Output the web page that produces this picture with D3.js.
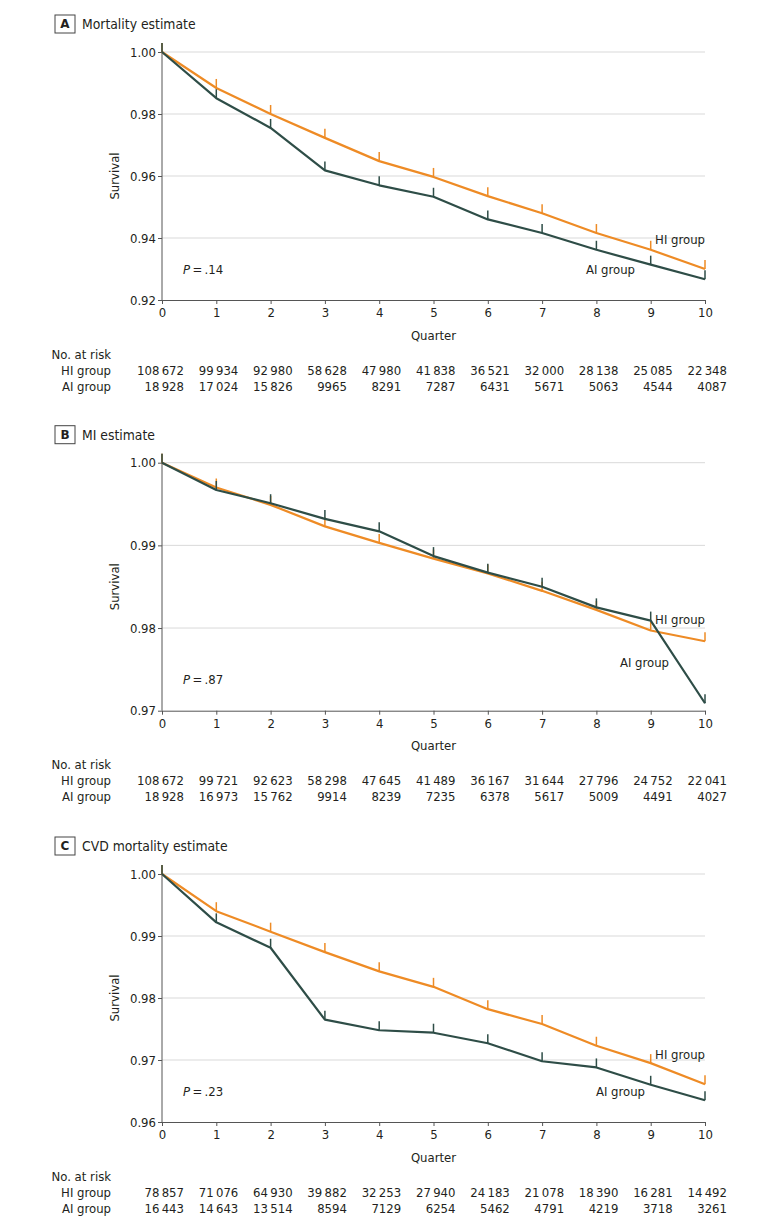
<!DOCTYPE html>
<html>
<head>
    <meta charset="utf-8" />
    <title>Survival by quarter</title>
    <style>
    body { margin: 0; background: #fff; }
    svg text {
        font-family: "DejaVu Sans Condensed", "DejaVu Sans", sans-serif;
        font-stretch: condensed;
        fill: #231f20;
    }
    .grid line { stroke: #d9d9d9; stroke-width: 1px; }
    .axis path, .axis line { stroke: #555; }
    </style>
</head>
<body>
    <svg id="chart" width="780" height="1227"></svg>

    <script src="https://d3js.org/d3.v7.min.js"></script>
    <script>
        // quarters on the x axis
        var quarters = [0, 1, 2, 3, 4, 5, 6, 7, 8, 9, 10];

        // survival estimates
        var mortalityHI = [1.000, 0.9884, 0.9800, 0.9723, 0.9648, 0.9597, 0.9535, 0.9480, 0.9416, 0.9362, 0.9300];
        var mortalityAI = [1.000, 0.9851, 0.9755, 0.9618, 0.9570, 0.9533, 0.9460, 0.9416, 0.9362, 0.9314, 0.9267];
        var miHI = [1.000, 0.9970, 0.9949, 0.9923, 0.9903, 0.9884, 0.9866, 0.9845, 0.9822, 0.9797, 0.9784];
        var miAI = [1.000, 0.9967, 0.9951, 0.9932, 0.9917, 0.9887, 0.9867, 0.9850, 0.9825, 0.9809, 0.9709];
        var cvdHI = [1.000, 0.9940, 0.9907, 0.9874, 0.9843, 0.9818, 0.9782, 0.9758, 0.9723, 0.9695, 0.9661];
        var cvdAI = [1.000, 0.9922, 0.9881, 0.9765, 0.9748, 0.9744, 0.9727, 0.9698, 0.9688, 0.9660, 0.9635];

        // y tick labels
        var mortalityTicks = [0.92, 0.94, 0.96, 0.98, 1.00];
        var miTicks = [0.97, 0.98, 0.99, 1.00];
        var cvdTicks = [0.96, 0.97, 0.98, 0.99, 1.00];

        // numbers at risk
        var mortalityRiskHI = [108672, 99934, 92980, 58628, 47980, 41838, 36521, 32000, 28138, 25085, 22348];
        var mortalityRiskAI = [18928, 17024, 15826, 9965, 8291, 7287, 6431, 5671, 5063, 4544, 4087];
        var miRiskHI = [108672, 99721, 92623, 58298, 47645, 41489, 36167, 31644, 27796, 24752, 22041];
        var miRiskAI = [18928, 16973, 15762, 9914, 8239, 7235, 6378, 5617, 5009, 4491, 4027];
        var cvdRiskHI = [78857, 71076, 64930, 39882, 32253, 27940, 24183, 21078, 18390, 16281, 14492];
        var cvdRiskAI = [16443, 14643, 13514, 8594, 7129, 6254, 5462, 4791, 4219, 3718, 3261];

        var panelLetters = ["A", "B", "C"];
        var panelTitles = ["Mortality estimate", "MI estimate", "CVD mortality estimate"];
        var pValues = [".14", ".87", ".23"];

        var colorHI = "#ee8b25",
            colorAI = "#2e4d47";

        // layout of each panel (pixel offsets from plot top)
        var panels = [
            { top: 52,    hi: mortalityHI, ai: mortalityAI, ticks: mortalityTicks, riskHI: mortalityRiskHI, riskAI: mortalityRiskAI,
              hiLabelY: 187, aiLabelY: 217, aiLabelX: 635, pY: 217 },
            { top: 462.7, hi: miHI, ai: miAI, ticks: miTicks, riskHI: miRiskHI, riskAI: miRiskAI,
              hiLabelY: 157, aiLabelY: 200, aiLabelX: 669, pY: 217 },
            { top: 874,   hi: cvdHI, ai: cvdAI, ticks: cvdTicks, riskHI: cvdRiskHI, riskAI: cvdRiskAI,
              hiLabelY: 180, aiLabelY: 217, aiLabelX: 645, pY: 217 }
        ];

        var plotH = 248,
            left = 162,
            right = 705;

        var svg = d3.select("#chart");

        var x = d3.scaleLinear().domain([0, 10]).range([left, right]);

        // thin space between thousands
        function fmtRisk(n) {
            var s = String(n);
            if (s.length <= 4) return s;
            return s.slice(0, s.length - 3) + "\u2009" + s.slice(s.length - 3);
        }

        panels.forEach(function(p, i) {
            var g = svg.append("g").attr("transform", "translate(0," + p.top + ")");
            var y = d3.scaleLinear()
                .domain([d3.min(p.ticks), d3.max(p.ticks)])
                .range([plotH, 0]);

            // title with boxed letter
            var title = g.append("g").attr("transform", "translate(0,-28)");
            title.append("rect")
                .attr("x", 55).attr("y", -9).attr("width", 20).attr("height", 18)
                .attr("fill", "none").attr("stroke", "#444").attr("stroke-width", 1);
            title.append("text")
                .attr("x", 65).attr("dy", "0.36em")
                .attr("text-anchor", "middle")
                .style("font-family", "'DejaVu Sans', sans-serif")
                .style("font-stretch", "normal")
                .style("font-weight", "bold").style("font-size", "12px")
                .text(panelLetters[i]);
            title.append("text")
                .attr("x", 82).attr("dy", "0.36em")
                .style("font-size", "13.8px")
                .text(panelTitles[i]);

            // gridlines
            g.append("g").attr("class", "grid")
                .selectAll("line")
                .data(p.ticks.slice(1))
                .enter().append("line")
                .attr("x1", left).attr("x2", right)
                .attr("y1", function(d) { return y(d); })
                .attr("y2", function(d) { return y(d); });

            // y axis
            var yAxis = g.append("g").attr("class", "axis")
                .attr("transform", "translate(" + left + ",0)")
                .call(d3.axisLeft(y).tickValues(p.ticks).tickFormat(d3.format(".2f")).tickSize(4).tickSizeOuter(0));
            yAxis.selectAll("text").style("font-size", "13px").attr("x", -6);
            yAxis.select(".domain").attr("d", "M0," + (plotH) + "V-9");

            // x axis
            var xAxis = g.append("g").attr("class", "axis")
                .attr("transform", "translate(0," + plotH + ")")
                .call(d3.axisBottom(x).tickValues(quarters).tickFormat(d3.format("d")).tickSize(4).tickSizeOuter(0));
            xAxis.selectAll("text").style("font-size", "13px").attr("y", 8);

            g.append("text")
                .attr("transform", "translate(114," + (plotH / 2) + ") rotate(-90)")
                .attr("text-anchor", "middle").attr("dy", "0.35em")
                .style("font-size", "13px")
                .text("Survival");
            g.append("text")
                .attr("x", (left + right) / 2).attr("y", plotH + 35).attr("dy", "0.35em")
                .attr("text-anchor", "middle")
                .style("font-size", "13px")
                .text("Quarter");

            // curves, HI first then AI on top
            var line = d3.line()
                .x(function(d, k) { return x(quarters[k]); })
                .y(function(d) { return y(d); });

            [[p.hi, colorHI], [p.ai, colorAI]].forEach(function(s) {
                g.append("path")
                    .datum(s[0])
                    .attr("d", line)
                    .attr("fill", "none")
                    .attr("stroke", s[1])
                    .attr("stroke-width", 2.2)
                    .attr("stroke-linejoin", "round");
                g.append("g").selectAll("line")
                    .data(s[0])
                    .enter().append("line")
                    .attr("x1", function(d, k) { return x(quarters[k]); })
                    .attr("x2", function(d, k) { return x(quarters[k]); })
                    .attr("y1", function(d) { return y(d); })
                    .attr("y2", function(d) { return y(d) - 9; })
                    .attr("stroke", s[1])
                    .attr("stroke-width", 1.5);
            });

            // labels
            g.append("text")
                .attr("x", right).attr("y", p.hiLabelY).attr("dy", "0.35em")
                .attr("text-anchor", "end").style("font-size", "13px")
                .text("HI group");
            g.append("text")
                .attr("x", p.aiLabelX).attr("y", p.aiLabelY).attr("dy", "0.35em")
                .attr("text-anchor", "end").style("font-size", "13px")
                .text("AI group");
            var pt = g.append("text")
                .attr("x", 183).attr("y", p.pY).attr("dy", "0.35em")
                .style("font-size", "13px");
            pt.append("tspan").style("font-style", "italic").text("P");
            pt.append("tspan").text("\u2009=\u2009" + pValues[i]);

            // number at risk table
            var tbl = g.append("g").attr("transform", "translate(0," + plotH + ")");
            var rows = [["No. at risk", null, 54], ["HI group", p.riskHI, 70], ["AI group", p.riskAI, 86]];
            rows.forEach(function(r) {
                tbl.append("text")
                    .attr("x", 111).attr("y", r[2]).attr("dy", "0.35em")
                    .attr("text-anchor", "end").style("font-size", "13px")
                    .text(r[0]);
                if (!r[1]) return;
                tbl.selectAll(null)
                    .data(r[1])
                    .enter().append("text")
                    .attr("x", function(d, k) { return x(quarters[k]) + 22; })
                    .attr("y", r[2]).attr("dy", "0.35em")
                    .attr("text-anchor", "end").style("font-size", "13px")
                    .text(fmtRisk);
            });
        });
    </script>
</body>
</html>
